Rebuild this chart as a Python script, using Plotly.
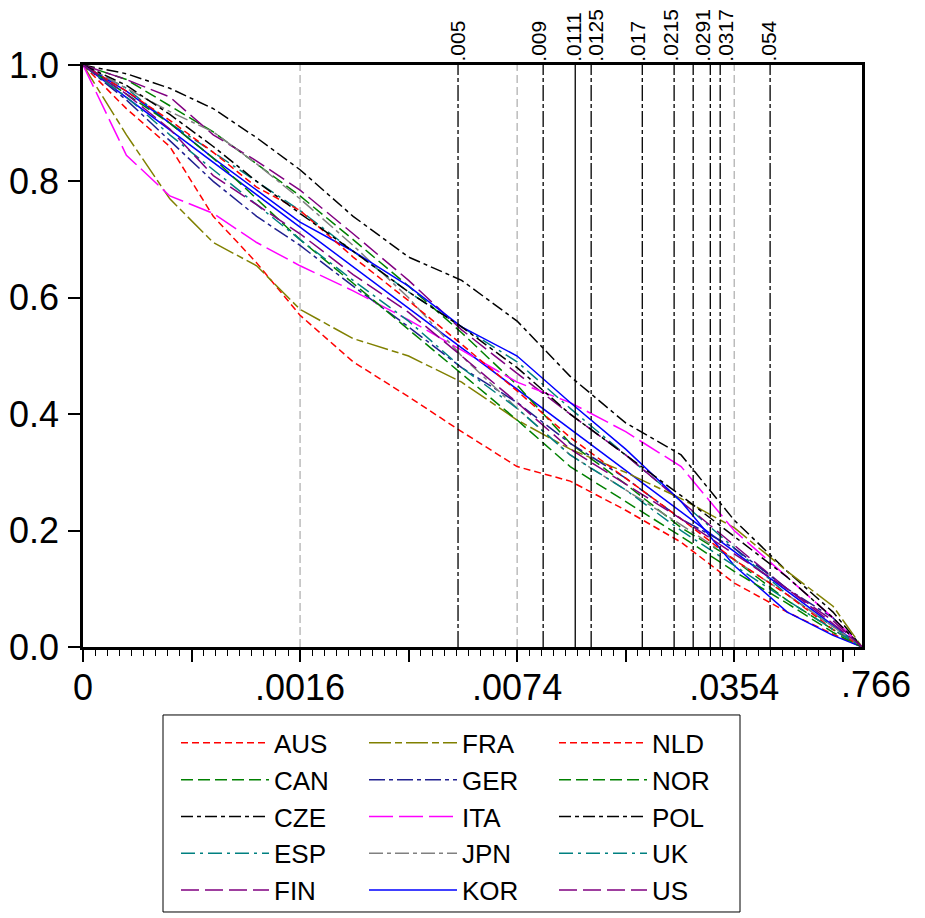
import plotly.graph_objects as go

# ---------------- data ----------------
# x positions are ranks in the pooled p-value ordering (0 .. 323)
rank = [0, 18, 36, 54, 72, 90, 112, 135, 157, 180, 202, 225, 248, 270, 292, 311, 323]

AUS = [1, 0.925, 0.86, 0.74, 0.66, 0.57, 0.49, 0.43, 0.37, 0.31, 0.285, 0.235, 0.18, 0.11, 0.06, 0.022, 0]
CAN = [1, 0.975, 0.93, 0.885, 0.83, 0.775, 0.70, 0.62, 0.54, 0.45, 0.35, 0.28, 0.205, 0.15, 0.08, 0.03, 0]
CZE = [1, 0.985, 0.96, 0.925, 0.875, 0.82, 0.74, 0.67, 0.63, 0.56, 0.465, 0.385, 0.33, 0.218, 0.13, 0.06, 0]
ESP = [1, 0.96, 0.90, 0.85, 0.80, 0.75, 0.68, 0.61, 0.55, 0.49, 0.41, 0.33, 0.25, 0.17, 0.09, 0.035, 0]
FIN = [1, 0.975, 0.945, 0.88, 0.835, 0.785, 0.71, 0.63, 0.545, 0.47, 0.40, 0.33, 0.25, 0.175, 0.10, 0.04, 0]
FRA = [1, 0.88, 0.77, 0.695, 0.655, 0.58, 0.53, 0.50, 0.455, 0.39, 0.34, 0.30, 0.255, 0.205, 0.13, 0.07, 0]
GER = [1, 0.94, 0.87, 0.80, 0.74, 0.69, 0.62, 0.55, 0.48, 0.42, 0.35, 0.29, 0.22, 0.17, 0.10, 0.05, 0]
ITA = [1, 0.845, 0.775, 0.745, 0.695, 0.655, 0.612, 0.562, 0.51, 0.455, 0.42, 0.37, 0.31, 0.20, 0.12, 0.05, 0]
JPN = [1, 0.96, 0.92, 0.885, 0.83, 0.77, 0.69, 0.60, 0.50, 0.41, 0.33, 0.27, 0.21, 0.15, 0.09, 0.035, 0]
KOR = [1, 0.955, 0.90, 0.84, 0.785, 0.73, 0.68, 0.62, 0.55, 0.50, 0.42, 0.34, 0.25, 0.14, 0.06, 0.02, 0]
NLD = [1, 0.955, 0.905, 0.85, 0.79, 0.75, 0.67, 0.595, 0.52, 0.44, 0.36, 0.29, 0.22, 0.15, 0.09, 0.03, 0]
NOR = [1, 0.95, 0.90, 0.84, 0.77, 0.70, 0.625, 0.545, 0.47, 0.39, 0.31, 0.25, 0.19, 0.13, 0.075, 0.025, 0]
POL = [1, 0.965, 0.915, 0.86, 0.80, 0.745, 0.68, 0.61, 0.55, 0.48, 0.40, 0.33, 0.26, 0.19, 0.12, 0.05, 0]
UK = [1, 0.945, 0.88, 0.82, 0.76, 0.70, 0.63, 0.56, 0.48, 0.41, 0.33, 0.27, 0.20, 0.14, 0.08, 0.03, 0]
US = [1, 0.95, 0.89, 0.81, 0.76, 0.71, 0.64, 0.575, 0.50, 0.42, 0.34, 0.28, 0.22, 0.16, 0.10, 0.045, 0]

# reference 45-degree line
ref_x = [0, 323]
ref_y = [1, 0]

# x tick labels (pooled p-value quantiles)
tick_rank = [0, 45, 90, 135, 180, 225, 270, 315]
tick_text = ["0", "", ".0016", "", ".0074", "", ".0354", ""]
end_rank = 323
end_label = ".766"

# gridline positions at labelled ticks
grid_rank = [90, 180, 270]

# significance thresholds (vertical lines)
vline_rank = [155.5, 190.8, 204.1, 210.7, 231.9, 245.1, 253.0, 260.1, 264.2, 284.9]
vline_label = [".005", ".009", ".0111", ".0125", ".017", ".0215", ".0291", "", ".0317", ".054"]

series = {"AUS": AUS, "CAN": CAN, "CZE": CZE, "ESP": ESP, "FIN": FIN,
          "FRA": FRA, "GER": GER, "ITA": ITA, "JPN": JPN, "KOR": KOR,
          "NLD": NLD, "NOR": NOR, "POL": POL, "UK": UK, "US": US}

# legend columns
legend_columns = [["AUS", "CAN", "CZE", "ESP", "FIN"],
                  ["FRA", "GER", "ITA", "JPN", "KOR"],
                  ["NLD", "NOR", "POL", "UK", "US"]]

# ---------------- styles ----------------
styles = {
    "AUS": ("#FF0000", "7px,4px"),
    "NLD": ("#FF0000", "7px,4px"),
    "CAN": ("#008000", "12px,5px"),
    "NOR": ("#008000", "12px,5px"),
    "CZE": ("#000000", "12px,4px,4px,4px"),
    "POL": ("#000000", "12px,4px,4px,4px"),
    "ESP": ("#008080", "14px,5px,3px,5px"),
    "UK": ("#008080", "14px,5px,3px,5px"),
    "FIN": ("#800080", "18px,6px"),
    "US": ("#800080", "18px,6px"),
    "FRA": ("#808000", "22px,4px,7px,4px"),
    "GER": ("#202090", "16px,4px,4px,4px"),
    "ITA": ("#FF00FF", "24px,6px"),
    "JPN": ("#808080", "14px,4px,4px,4px"),
    "KOR": ("#0000FF", "solid"),
}

FONT = "Arial, 'Liberation Sans', sans-serif"

fig = go.Figure()

fig.add_trace(go.Scatter(x=ref_x, y=ref_y, mode="lines", showlegend=False,
                         line=dict(color="#0000FF", width=1.5), hoverinfo="skip"))

legend_ids = ["legend", "legend2", "legend3"]
for lid, col in zip(legend_ids, legend_columns):
    for c in col:
        color, dash = styles[c]
        fig.add_trace(go.Scatter(x=rank, y=series[c], mode="lines", name=c, legend=lid,
                                 line=dict(color=color, dash=dash, width=1.5)))

# gray gridlines at labelled ticks
for g in grid_rank:
    fig.add_shape(type="line", x0=g, x1=g, y0=0, y1=1, xref="x", yref="paper",
                  line=dict(color="#9a9a9a", width=1, dash="8px,4px"), layer="below")

# threshold lines + labels
label_shift = {".005": -1, ".009": -5, ".0111": -2, ".0125": 4, ".017": -5,
               ".0215": -4, ".0291": 9, ".0317": 5, ".054": -2}
for xv, lab in zip(vline_rank, vline_label):
    solid = lab == ".0111"
    fig.add_shape(type="line", x0=xv, x1=xv, y0=0, y1=1, xref="x", yref="paper",
                  line=dict(color="black", width=1.3,
                            dash="solid" if solid else "16px,3px,4px,3px"))
    if lab:
        fig.add_annotation(x=xv, y=1, xref="x", yref="paper", text=lab,
                           textangle=-90, showarrow=False, xanchor="center",
                           yanchor="bottom", yshift=1, xshift=label_shift.get(lab, 0),
                           font=dict(family=FONT, size=21, color="black"))

# last x label
fig.add_annotation(x=end_rank, y=0, xref="x", yref="paper", text=end_label,
                   showarrow=False, xanchor="center", yanchor="top", yshift=-15, xshift=14,
                   font=dict(family=FONT, size=36, color="black"))

# legend frame
fig.add_shape(type="rect", xref="paper", yref="paper", x0=0.1027, x1=0.8434,
              y0=-0.4553, y1=-0.1168, line=dict(color="black", width=1),
              fillcolor="rgba(0,0,0,0)")

leg_common = dict(orientation="v", yanchor="top", xanchor="left", y=-0.1245,
                  bgcolor="rgba(0,0,0,0)", borderwidth=0,
                  font=dict(family=FONT, size=26, color="black"),
                  itemwidth=88, traceorder="normal")
fig.update_layout(
    width=917, height=910,
    margin=dict(l=75, r=63, t=57, b=271, autoexpand=False),
    paper_bgcolor="white", plot_bgcolor="white",
    font=dict(family=FONT, color="black"),
    showlegend=True,
    legend=dict(x=(176 - 83) / 779, **leg_common),
    legend2=dict(x=(364 - 83) / 779, **leg_common),
    legend3=dict(x=(554 - 83) / 779, **leg_common),
)

fig.update_xaxes(range=[0, end_rank], tickmode="array", tickvals=tick_rank, ticktext=tick_text,
                 ticks="outside", ticklen=12, tickwidth=1.5, tickcolor="black",
                 ticklabelstandoff=-5,
                 minor=dict(dtick=5, tick0=0, ticks="outside", ticklen=6, tickwidth=1, tickcolor="black"),
                 showgrid=False, zeroline=False,
                 showline=True, linecolor="black", linewidth=2.5, mirror=True,
                 tickfont=dict(family=FONT, size=36, color="black"))
fig.update_yaxes(range=[0, 1], tickmode="array", tickvals=[0, 0.2, 0.4, 0.6, 0.8, 1.0],
                 ticktext=["0.0", "0.2", "0.4", "0.6", "0.8", "1.0"],
                 ticks="outside", ticklen=12, tickwidth=1.5, tickcolor="black",
                 ticklabelstandoff=2,
                 showgrid=False, zeroline=False,
                 showline=True, linecolor="black", linewidth=2.5, mirror=True,
                 tickfont=dict(family=FONT, size=36, color="black"))

fig.write_html("out.html")
